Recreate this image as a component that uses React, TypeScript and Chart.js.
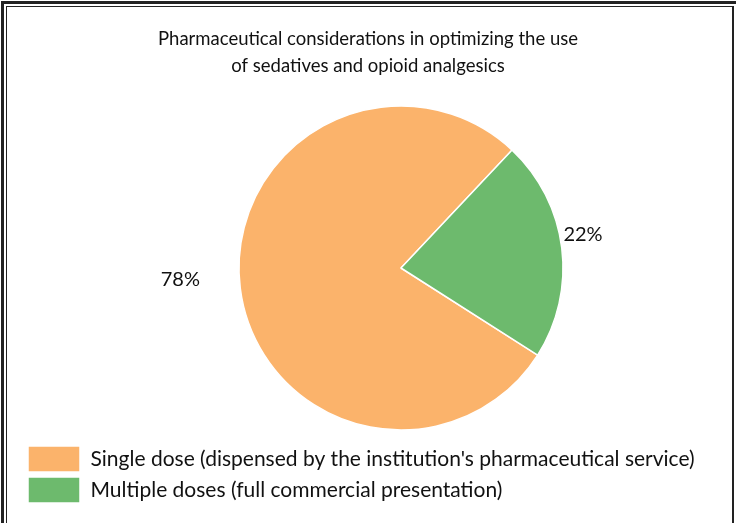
import React, { useEffect, useRef } from "react";
import { Chart, registerables } from "chart.js";

Chart.register(...registerables);

const titleLines = [
  "Pharmaceutical considerations in optimizing the use",
  "of sedatives and opioid analgesics",
];
const categories = [
  "Single dose (dispensed by the institution's pharmaceutical service)",
  "Multiple doses (full commercial presentation)",
];
const shares = [78, 22];
const valueLabels = ["78%", "22%"];
const sliceColors = ["#fbb36b", "#6dba6d"];

const FONT = "Lato, 'Open Sans', sans-serif";

const outsideLabels = {
  id: "outsideLabels",
  afterDatasetsDraw(chart: any, _args: any, opts: any) {
    const meta = chart.getDatasetMeta(0);
    const ctx = chart.ctx;
    ctx.save();
    ctx.font = opts.font;
    ctx.fillStyle = opts.color;
    ctx.textAlign = "center";
    ctx.textBaseline = "middle";
    meta.data.forEach((arc: any, i: number) => {
      const p = arc.getProps(["x", "y", "startAngle", "endAngle", "outerRadius"], true);
      const mid = (p.startAngle + p.endAngle) / 2 + ((opts.angleShift[i] || 0) * Math.PI) / 180;
      const r = p.outerRadius * opts.radiusFactor[i];
      ctx.fillText(opts.labels[i], p.x + Math.cos(mid) * r, p.y + Math.sin(mid) * r);
    });
    ctx.restore();
  },
};

const shiftArea = {
  id: "shiftArea",
  afterLayout(chart: any, _args: any, opts: any) {
    const a = chart.chartArea;
    a.left += opts.left;
    a.width = a.right - a.left;
  },
};

export default function App() {
  const ref = useRef<HTMLCanvasElement | null>(null);

  useEffect(() => {
    document.body.style.margin = "0";
    const canvas = ref.current;
    if (!canvas) return;
    const chart = new Chart(canvas, {
      type: "pie",
      data: {
        labels: categories,
        datasets: [
          {
            data: shares,
            backgroundColor: sliceColors,
            borderColor: "#ffffff",
            borderWidth: 1.5,
            radius: 162,
            rotation: 122.5,
          } as any,
        ],
      },
      plugins: [outsideLabels, shiftArea],
      options: {
        responsive: false,
        animation: false,
        layout: { padding: { top: 0, left: 23, right: 23, bottom: 10 } },
        plugins: {
          title: {
            display: true,
            text: titleLines,
            color: "#111111",
            font: { family: FONT, size: 18.5, weight: "normal", lineHeight: "27px" },
            padding: { top: 26, bottom: 15 },
          },
          legend: {
            display: true,
            position: "bottom",
            align: "start",
            labels: {
              boxWidth: 52,
              boxHeight: 26,
              padding: 5,
              color: "#111111",
              font: { family: FONT, size: 21 },
            },
          },
          tooltip: { enabled: false },
          outsideLabels: {
            labels: valueLabels,
            font: "20px " + FONT,
            color: "#111111",
            radiusFactor: [1.364, 1.142],
            angleShift: [4, -3.2],
          },
          shiftArea: { left: 66 },
        } as any,
      },
    });
    return () => chart.destroy();
  }, []);

  const line = (s: React.CSSProperties): React.CSSProperties => ({
    position: "absolute",
    background: "#222222",
    pointerEvents: "none",
    ...s,
  });

  return (
    <div style={{ position: "fixed", left: 0, top: 0, width: 736, height: 523, background: "#ffffff" }}>
      <canvas ref={ref} width={736} height={523} style={{ position: "absolute", left: 0, top: 0 }} />
      <div style={line({ left: 1, top: 1, width: 735, height: 3 })} />
      <div style={line({ left: 1, top: 1, width: 3, height: 522 })} />
      <div style={line({ left: 6, top: 6, width: 727, height: 1 })} />
      <div style={line({ left: 6, top: 6, width: 1, height: 517 })} />
      <div style={line({ left: 732, top: 6, width: 2, height: 517 })} />
    </div>
  );
}
